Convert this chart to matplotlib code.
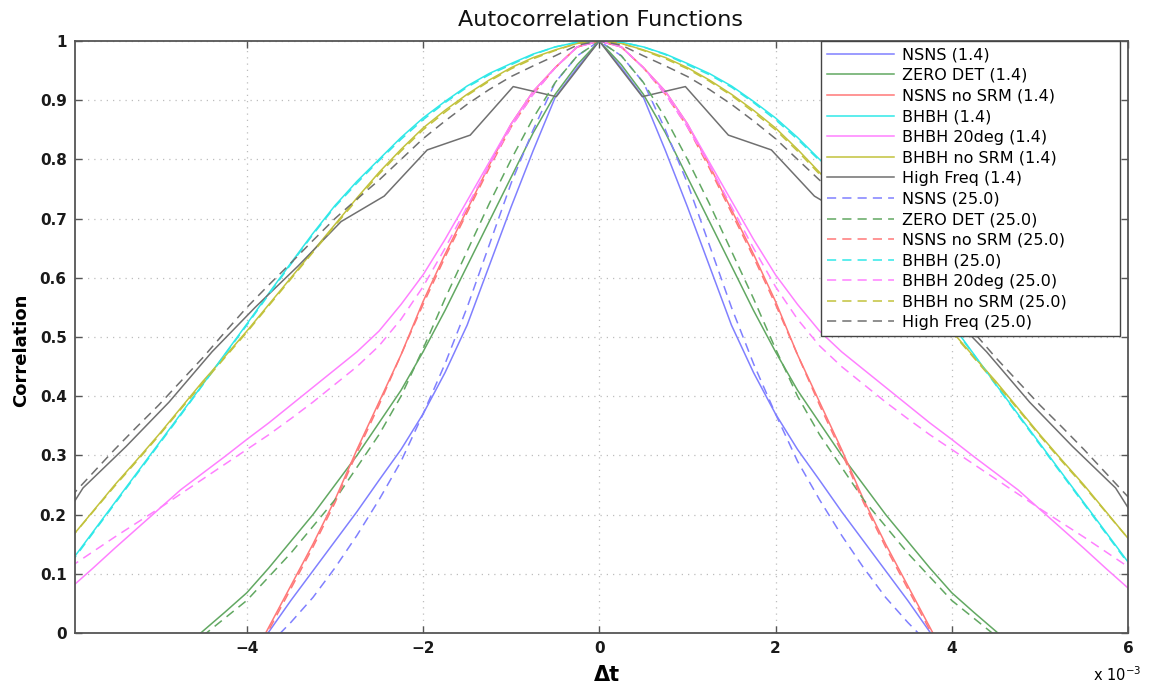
import numpy as np
import matplotlib
matplotlib.use("Agg")
import matplotlib.pyplot as plt

plt.rcParams['font.family'] = ['DejaVu Sans']

# ---- data (lag in units of 1e-3 s; curves are symmetric about 0) ----
LAG = [0.0, 0.25, 0.5, 0.75, 1.0, 1.25, 1.5, 1.75, 2.0, 2.25, 2.5, 2.75, 3.0,
       3.25, 3.5, 3.75, 4.0, 4.25, 4.5, 4.75, 5.0, 5.25, 5.5, 5.75, 6.0]
nan = float('nan')

nsns_14 = [1.0, 0.955, 0.905, 0.815, 0.72, 0.62, 0.52, 0.44, 0.37, 0.31, 0.258, 0.205, 0.155,
           0.105, 0.055, 0.002, -0.05, nan, nan, nan, nan, nan, nan, nan, nan]
zero_14 = [1.0, 0.96, 0.91, 0.845, 0.77, 0.695, 0.62, 0.545, 0.475, 0.41, 0.355, 0.30, 0.25,
           0.20, 0.155, 0.11, 0.068, 0.035, 0.003, -0.03, nan, nan, nan, nan, nan]
nsns_nosrm_14 = [1.0, 0.99, 0.955, 0.915, 0.86, 0.79, 0.715, 0.64, 0.56, 0.47, 0.39, 0.31, 0.225,
                 0.15, 0.08, 0.01, -0.06, nan, nan, nan, nan, nan, nan, nan, nan]
bhbh_14 = [1.0, 0.998, 0.99, 0.978, 0.962, 0.945, 0.924, 0.898, 0.87, 0.837, 0.80, 0.763, 0.722,
           0.675, 0.625, 0.574, 0.522, 0.471, 0.42, 0.37, 0.32, 0.27, 0.22, 0.17, 0.12]
bhbh20_14 = [1.0, 0.99, 0.955, 0.915, 0.86, 0.795, 0.73, 0.665, 0.605, 0.555, 0.51, 0.475, 0.445,
             0.415, 0.385, 0.355, 0.327, 0.298, 0.27, 0.242, 0.209, 0.176, 0.143, 0.109, 0.076]
bhbh_nosrm_14 = [1.0, 0.996, 0.985, 0.972, 0.955, 0.934, 0.91, 0.883, 0.853, 0.817, 0.778, 0.735, 0.69,
                 0.645, 0.60, 0.555, 0.51, 0.467, 0.425, 0.38, 0.335, 0.292, 0.25, 0.205, 0.16]

nsns_25 = [1.0, 0.975, 0.93, 0.85, 0.76, 0.655, 0.55, 0.455, 0.37, 0.29, 0.225, 0.165, 0.11,
           0.06, 0.018, -0.02, nan, nan, nan, nan, nan, nan, nan, nan, nan]
zero_25 = [1.0, 0.975, 0.93, 0.87, 0.80, 0.725, 0.645, 0.565, 0.48, 0.40, 0.335, 0.28, 0.225,
           0.18, 0.135, 0.095, 0.055, 0.025, -0.005, nan, nan, nan, nan, nan, nan]
nsns_nosrm_25 = [1.0, 0.99, 0.955, 0.91, 0.855, 0.785, 0.71, 0.635, 0.555, 0.47, 0.385, 0.305, 0.22,
                 0.145, 0.075, 0.005, -0.06, nan, nan, nan, nan, nan, nan, nan, nan]
bhbh_25 = [1.0, 0.998, 0.99, 0.977, 0.96, 0.943, 0.922, 0.896, 0.867, 0.834, 0.798, 0.76, 0.72,
           0.673, 0.623, 0.572, 0.52, 0.47, 0.419, 0.368, 0.318, 0.268, 0.218, 0.168, 0.118]
bhbh20_25 = [1.0, 0.99, 0.955, 0.91, 0.855, 0.79, 0.72, 0.65, 0.585, 0.53, 0.485, 0.45, 0.42,
             0.39, 0.362, 0.335, 0.31, 0.285, 0.26, 0.235, 0.21, 0.186, 0.162, 0.137, 0.112]
bhbh_nosrm_25 = [1.0, 0.996, 0.984, 0.97, 0.953, 0.932, 0.908, 0.88, 0.85, 0.814, 0.775, 0.732, 0.688,
                 0.643, 0.598, 0.553, 0.508, 0.465, 0.422, 0.378, 0.333, 0.29, 0.248, 0.204, 0.16]
highfreq_25 = [1.0, 0.993, 0.975, 0.958, 0.94, 0.918, 0.893, 0.865, 0.835, 0.80, 0.765, 0.733, 0.70,
               0.663, 0.625, 0.588, 0.55, 0.508, 0.465, 0.425, 0.385, 0.348, 0.31, 0.27, 0.23]

# High Freq (1.4) is coarsely sampled
LAG_HF = [0.0, 0.488, 0.977, 1.465, 1.953, 2.441, 2.930, 3.418, 3.906, 4.395, 4.883, 5.371, 5.859, 6.348]
highfreq_14 = [1.0, 0.906, 0.923, 0.841, 0.816, 0.738, 0.695, 0.62, 0.55, 0.475, 0.39, 0.315, 0.245, 0.13]

LABELS = ['NSNS (1.4)', 'ZERO DET (1.4)', 'NSNS no SRM (1.4)', 'BHBH (1.4)', 'BHBH 20deg (1.4)',
          'BHBH no SRM (1.4)', 'High Freq (1.4)',
          'NSNS (25.0)', 'ZERO DET (25.0)', 'NSNS no SRM (25.0)', 'BHBH (25.0)', 'BHBH 20deg (25.0)',
          'BHBH no SRM (25.0)', 'High Freq (25.0)']
COLORS = ['#8080ff', '#62a862', '#ff7878', '#30e8e8', '#ff80ff', '#c2c23c', '#707070']

XTICKS = [-4, -2, 0, 2, 4, 6]
XTICK_LABELS = ['\u22124', '\u22122', '0', '2', '4', '6']
YTICKS = [0, 0.1, 0.2, 0.3, 0.4, 0.5, 0.6, 0.7, 0.8, 0.9, 1.0]
YTICK_LABELS = ['0', '0.1', '0.2', '0.3', '0.4', '0.5', '0.6', '0.7', '0.8', '0.9', '1']


def mirror(lag, vals):
    lag = np.asarray(lag, float)
    vals = np.asarray(vals, float)
    x = np.concatenate([-lag[:0:-1], lag])
    y = np.concatenate([vals[:0:-1], vals])
    return x, y


fig = plt.figure(figsize=(11.54, 6.90), dpi=100)
ax = fig.add_axes([75 / 1154, 57 / 690, 1053 / 1154, 592 / 690])

solid = [nsns_14, zero_14, nsns_nosrm_14, bhbh_14, bhbh20_14, bhbh_nosrm_14]
dashed = [nsns_25, zero_25, nsns_nosrm_25, bhbh_25, bhbh20_25, bhbh_nosrm_25, highfreq_25]

for i, vals in enumerate(solid):
    x, y = mirror(LAG, vals)
    ax.plot(x, y, color=COLORS[i], lw=1.1, label=LABELS[i])
x, y = mirror(LAG_HF, highfreq_14)
ax.plot(x, y, color=COLORS[6], lw=1.1, label=LABELS[6])
for i, vals in enumerate(dashed):
    x, y = mirror(LAG, vals)
    ax.plot(x, y, color=COLORS[i], lw=1.1, linestyle=(0, (6, 4)), label=LABELS[7 + i])

ax.set_xlim(-5.95, 6.0)
ax.set_ylim(0, 1)
ax.set_xticks(XTICKS)
ax.set_xticklabels(XTICK_LABELS)
ax.set_yticks(YTICKS)
ax.set_yticklabels(YTICK_LABELS)
ax.grid(True, color='#bdbdbd', linestyle=(0, (1, 4)), lw=0.9)
ax.tick_params(direction='in', top=True, right=True, length=5, width=1, color='#555555',
               labelsize=11, labelcolor='#1a1a1a', pad=6)
for lab in ax.get_xticklabels() + ax.get_yticklabels():
    lab.set_fontweight('bold')
for s in ax.spines.values():
    s.set_color('#555555')
    s.set_linewidth(1.3)

leg = ax.legend(loc='upper right', bbox_to_anchor=(0.708, 0.505, 0.284, 0.495), mode='expand',
                borderaxespad=0, fontsize=11.5, handlelength=4.2, handletextpad=0.5,
                labelspacing=0.35, borderpad=0.4, fancybox=False, framealpha=1)
leg.get_frame().set_edgecolor('#444444')
leg.get_frame().set_linewidth(1.0)

fig.text(601 / 1154, 1 - 20 / 690, 'Autocorrelation Functions', ha='center', va='center',
         fontsize=16, color='#111111')
fig.text(21 / 1154, 1 - 350 / 690, 'Correlation', rotation=90, ha='center', va='center',
         fontsize=13, fontweight='bold')
fig.text(607 / 1154, 1 - 675 / 690, '\u0394t', ha='center', va='center', fontsize=15,
         fontweight='bold')
fig.text(1093 / 1154, 1 - 681 / 690, 'x 10$^{-3}$', ha='left', va='baseline', fontsize=10.5)

fig.savefig('out.png', dpi=100)
